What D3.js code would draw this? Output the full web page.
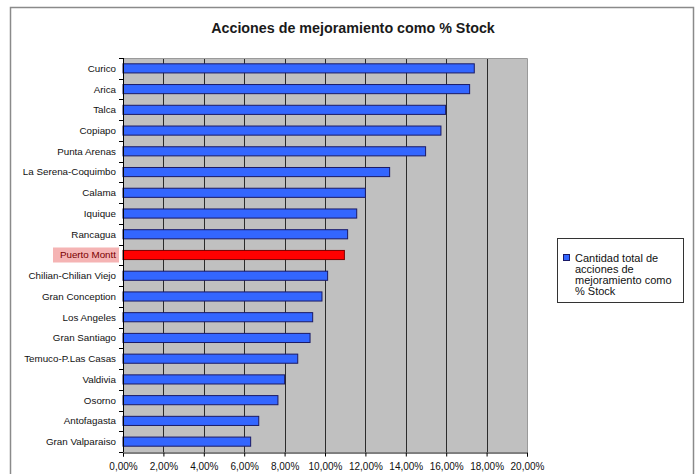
<!DOCTYPE html>
<html>
<head>
<meta charset="utf-8">
<script src="https://cdn.jsdelivr.net/npm/d3@7/dist/d3.min.js"></script>
<style>
  html, body { margin: 0; padding: 0; background: #ffffff; }
  svg { display: block; font-family: Arial, "Liberation Sans", sans-serif; }
</style>
</head>
<body>
<svg id="chart" width="695" height="474"></svg>
<script>
// Cities, top to bottom
const cities = [
  "Curico", "Arica", "Talca", "Copiapo", "Punta Arenas", "La Serena-Coquimbo",
  "Calama", "Iquique", "Rancagua", "Puerto Montt", "Chilian-Chilian Viejo",
  "Gran Conception", "Los Angeles", "Gran Santiago", "Temuco-P.Las Casas",
  "Valdivia", "Osorno", "Antofagasta", "Gran Valparaiso"
];
// Improvement actions as a share of stock
const shares = [
  0.1739, 0.1716, 0.1597, 0.1574, 0.1498, 0.1320,
  0.1200, 0.1157, 0.1112, 0.1096, 0.1013,
  0.0985, 0.0939, 0.0926, 0.0865,
  0.0800, 0.0767, 0.0672, 0.0632
];
const highlighted = ["Puerto Montt"];
const xTicks = [0, 0.02, 0.04, 0.06, 0.08, 0.10, 0.12, 0.14, 0.16, 0.18, 0.20];
const titleText = "Acciones de mejoramiento como % Stock";
const legendLines = ["Cantidad total de", "acciones de", "mejoramiento como", "% Stock"];

const data = cities.map((c, i) => ({ city: c, value: shares[i] }));

const svg = d3.select("#chart");
const plot = { left: 123, right: 527, top: 58, bottom: 452 };

const locale = d3.formatLocale({ decimal: ",", thousands: ".", grouping: [3], currency: ["", ""] });
const pct = locale.format(".2%");

const x = d3.scaleLinear().domain([0, 0.20]).range([plot.left, plot.right]);
const y = d3.scaleBand().domain(cities).range([plot.top, plot.bottom]).paddingInner(0.56).paddingOuter(0.28);

// Outer chart frame
svg.append("rect")
  .attr("x", 10.5).attr("y", 7.5).attr("width", 683).attr("height", 480)
  .attr("fill", "#ffffff").attr("stroke", "#8a8a8a").attr("stroke-width", 1.5);

// Title
svg.append("text")
  .attr("x", 353).attr("y", 33)
  .attr("text-anchor", "middle")
  .attr("font-size", 14.3).attr("font-weight", "bold").attr("fill", "#1a1a1a")
  .text(titleText);

// Plot background
svg.append("rect")
  .attr("x", plot.left).attr("y", plot.top)
  .attr("width", plot.right - plot.left).attr("height", plot.bottom - plot.top)
  .attr("fill", "#c0c0c0");

// Vertical gridlines
svg.append("g").selectAll("line")
  .data(xTicks.slice(1, -1))
  .join("line")
  .attr("x1", d => Math.round(x(d)) + 0.5).attr("x2", d => Math.round(x(d)) + 0.5)
  .attr("y1", plot.top).attr("y2", plot.bottom)
  .attr("stroke", "#2b2b2b").attr("stroke-width", 1);

// Plot top/right edges
svg.append("path")
  .attr("d", `M${plot.left},${plot.top + 0.5}H${plot.right + 0.5}V${plot.bottom}`)
  .attr("fill", "none").attr("stroke", "#9a9a9a").attr("stroke-width", 1);

// Bars
svg.append("g").selectAll("rect")
  .data(data)
  .join("rect")
  .attr("x", x(0))
  .attr("y", d => y(d.city))
  .attr("width", d => x(d.value) - x(0))
  .attr("height", y.bandwidth())
  .attr("fill", d => highlighted.includes(d.city) ? "#ff0000" : "#3366ff")
  .attr("stroke", d => highlighted.includes(d.city) ? "#7a0000" : "#1a1a66")
  .attr("stroke-width", 1);

// Highlight box behind the label
const hl = y("Puerto Montt");
svg.append("rect")
  .attr("x", 53).attr("y", hl + y.bandwidth() / 2 - 7.5)
  .attr("width", 66).attr("height", 15)
  .attr("fill", "#f5b4b4");

// Y axis
const yBoundaries = d3.range(cities.length + 1).map(i => plot.top + i * (plot.bottom - plot.top) / cities.length);
const yAxis = svg.append("g");
yAxis.append("line")
  .attr("x1", plot.left + 0.5).attr("x2", plot.left + 0.5)
  .attr("y1", plot.top).attr("y2", plot.bottom)
  .attr("stroke", "#000");
yAxis.selectAll("line.tick")
  .data(yBoundaries)
  .join("line").attr("class", "tick")
  .attr("x1", plot.left - 4).attr("x2", plot.left)
  .attr("y1", d => Math.round(d) + 0.5).attr("y2", d => Math.round(d) + 0.5)
  .attr("stroke", "#000");
yAxis.selectAll("text")
  .data(cities)
  .join("text")
  .attr("x", 116)
  .attr("y", d => y(d) + y.bandwidth() / 2)
  .attr("dy", "0.35em")
  .attr("text-anchor", "end")
  .attr("font-size", 9.8)
  .attr("fill", d => highlighted.includes(d) ? "#7a0000" : "#111")
  .text(d => d);

// X axis
const xAxis = svg.append("g")
  .attr("transform", `translate(0,${plot.bottom + 0.5})`)
  .call(d3.axisBottom(x).tickValues(xTicks).tickFormat(pct).tickSize(4).tickPadding(6));
xAxis.select(".domain").attr("stroke", "#000");
xAxis.selectAll(".tick line").attr("stroke", "#000");
xAxis.selectAll(".tick text").attr("font-size", 10).attr("fill", "#111").attr("font-family", "Arial, 'Liberation Sans', sans-serif");

// Legend
const lg = svg.append("g");
lg.append("rect")
  .attr("x", 557.5).attr("y", 238.5).attr("width", 126).attr("height", 64)
  .attr("fill", "#ffffff").attr("stroke", "#333").attr("stroke-width", 1);
lg.append("rect")
  .attr("x", 563.5).attr("y", 254.5).attr("width", 6).attr("height", 6)
  .attr("fill", "#3366ff").attr("stroke", "#1a1a66");
lg.selectAll("text")
  .data(legendLines)
  .join("text")
  .attr("x", 575)
  .attr("y", (d, i) => 262 + i * 11)
  .attr("font-size", 11)
  .attr("fill", "#111")
  .text(d => d);
</script>
</body>
</html>
